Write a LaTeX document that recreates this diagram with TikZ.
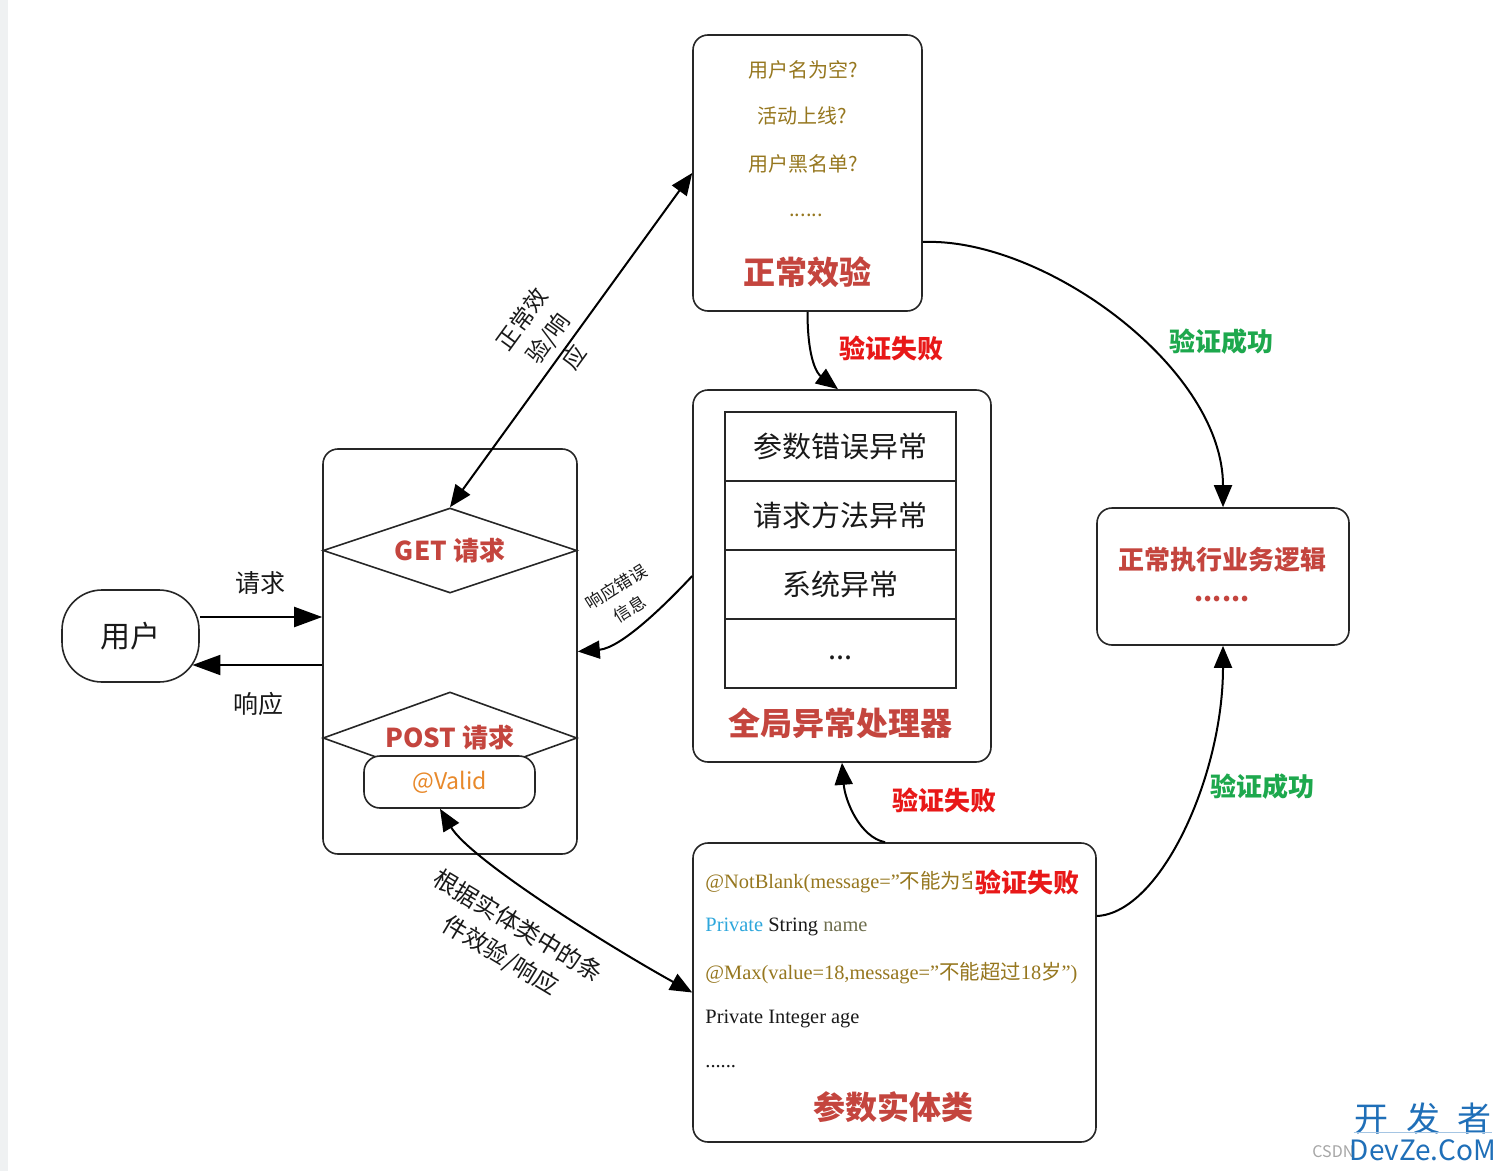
\documentclass[tikz,border=0pt]{standalone}
\usepackage{fontspec}
\setmainfont{Noto Sans CJK SC}
\newfontfamily\cjk{Noto Sans CJK SC}
\newfontfamily\codefont{Liberation Serif}
\usetikzlibrary{arrows.meta,shapes.geometric}
\definecolor{cOlive}{HTML}{96771F}
\definecolor{cTitle}{HTML}{C4453E}
\definecolor{cFail}{HTML}{E81818}
\definecolor{cOk}{HTML}{1DA84D}
\definecolor{cBlue}{HTML}{2EA7DC}
\definecolor{cName}{HTML}{6E6E4E}
\definecolor{cOrange}{HTML}{E8892B}
\definecolor{cLogo}{HTML}{1F6FB8}
\definecolor{cStrip}{HTML}{EFF1F2}
\tikzset{
  box/.style={draw=black!85, line width=0.8pt, rounded corners=7.5pt, fill=white, inner sep=0pt},
  cell/.style={draw=black!85, line width=0.9pt, minimum width=115.5pt, minimum height=34.5pt, inner sep=0pt, font=\fontsize{14.5}{16}\selectfont, text=black!90},
  dia/.style={draw=black!85, line width=0.8pt, shape=diamond, shape aspect=3, inner sep=0pt, font=\fontsize{13}{15}\selectfont\bfseries, text=cTitle},
  olivetxt/.style={inner sep=0pt, text=cOlive, font=\fontsize{10}{12}\selectfont},
  title/.style={inner sep=0pt, text=cTitle, font=\fontsize{16}{18}\selectfont\bfseries},
  failtxt/.style={inner sep=0pt, text=cFail, font=\fontsize{13}{15}\selectfont\bfseries},
  oktxt/.style={inner sep=0pt, text=cOk, font=\fontsize{13}{15}\selectfont\bfseries},
  lbl/.style={inner sep=0pt, text=black!90, font=\fontsize{12.5}{14}\selectfont},
  code/.style={inner sep=0pt, anchor=west, text=black!90, font=\codefont\fontsize{10.2}{12}\selectfont},
  conn/.style={line width=1pt, draw=black, -{Triangle[length=11pt,width=9pt]}},
  conn2/.style={line width=1pt, draw=black, -{Triangle[length=14pt,width=10pt]}},
  bi/.style={line width=1pt, draw=black, {Triangle[length=11pt,width=9pt]}-{Triangle[length=11pt,width=9pt]}}
}
\begin{document}
\begin{tikzpicture}[x=0.5pt,y=-0.5pt]
\fill[white] (0,0) rectangle (1507,1171);
\fill[cStrip] (0,0) rectangle (8,1171);
\useasboundingbox (0,0) rectangle (1507,1171);

% top validation box
\node[box, minimum width=114.5pt, minimum height=138pt] (top) at (807.5,173) {};
\node[olivetxt] (t1) at (803,70) {用户名为空?};
\node[olivetxt] (t2) at (802,116) {活动上线?};
\node[olivetxt] (t3) at (803,164) {用户黑名单?};
\node[olivetxt] (t4) at (806,215) {......};
\node[title] (t5) at (807,272) {正常效验};

% global exception handler
\node[box, minimum width=149pt, minimum height=186pt] (exc) at (842,576) {};
\node[cell] (e1) at (840.5,446.5) {参数错误异常};
\node[cell] (e2) at (840.5,515.5) {请求方法异常};
\node[cell] (e3) at (840.5,584.5) {系统异常};
\node[cell] (e4) at (840.5,653.5) {};
\node[inner sep=0pt, font=\fontsize{14.5}{16}\selectfont, text=black!90] (e4t) at (840.5,658) {...};
\node[title] (e5) at (840,723) {全局异常处理器};

% business logic box
\node[box, minimum width=126pt, minimum height=68.5pt] (biz) at (1223,576.5) {};
\node[inner sep=0pt, text=cTitle, font=\fontsize{13}{15}\selectfont\bfseries] (b1) at (1222,560) {正常执行业务逻辑};
\node[inner sep=0pt, text=cTitle, font=\fontsize{13}{15}\selectfont\bfseries] (b2) at (1222,599) {......};

% entity box
\node[box, minimum width=201.5pt, minimum height=149.5pt] (ent) at (894.5,992.5) {};
\node[code, text=cOlive] (c1) at (705,882) {@NotBlank(message=”{\cjk 不能为空}”)};
\node[code] (c2) at (705,927) {\textcolor{cBlue}{Private} String \textcolor{cName}{name}};
\node[code, text=cOlive] (c3) at (705,973) {@Max(value=18,message=”{\cjk 不能超过}18{\cjk 岁}”)};
\node[code] (c4) at (705,1019) {Private Integer age};
\node[code] (c5) at (705,1067) {......};
\node[title] (c6) at (893,1107) {参数实体类};
\node[failtxt, fill=white, inner sep=1.5pt] (f3) at (1027,882) {验证失败};

% request container
\node[box, minimum width=127pt, minimum height=202.5pt] (req) at (450,651.5) {};
\node[dia, minimum width=127pt, minimum height=42.5pt] (get) at (450,550.5) {GET 请求};
\node[dia, minimum width=127pt, minimum height=46pt] (post) at (450,738) {POST 请求};
\node[box, rounded corners=8pt, minimum width=85.5pt, minimum height=26pt, text=cOrange, font=\fontsize{11.5}{13}\selectfont] (valid) at (449.5,782) {@Valid};

% user
\node[box, rounded corners=20pt, minimum width=68.5pt, minimum height=46pt, font=\fontsize{15}{17}\selectfont, text=black!90] (user) at (130.5,636) {用户};
\node[lbl] (lq) at (260,583) {请求};
\node[lbl] (lx) at (258,704) {响应};
\draw[conn2] ([yshift=9.5pt]user.east) -- ([yshift=9.5pt]user.east -| req.west);
\draw[conn2] ([yshift=-14.5pt]user.east -| req.west) -- ([yshift=-14.5pt,xshift=-3.7pt]user.east);

% GET <-> normal validation
\draw[bi] (get.north) -- (top.west);
\node[inner sep=0pt, rotate=54, align=center, text=black!90, font=\fontsize{11.5}{16}\selectfont] (l1) at (548,338) {正常效\\验/响\\应};

% validation failed -> exception handler
\draw[conn] (top.south) .. controls +(0,50) and +(-20,-15) .. ([xshift=-2pt]exc.north);
\node[failtxt] (f1) at (891,348) {验证失败};

% validation ok -> business
\draw[conn] ([yshift=-34.5pt]top.east) .. controls +(120,-5) and +(0,-140) .. (biz.north);
\node[oktxt] (s1) at (1221,342) {验证成功};

% entity ok -> business
\draw[conn] ([yshift=38.25pt]ent.east) .. controls +(64,-3) and +(0,130) .. (biz.south);
\node[oktxt] (s2) at (1262,787) {验证成功};

% entity failed -> exception handler
\draw[conn] ([xshift=-4.75pt]ent.north) .. controls +(-25,-5) and +(3,38) .. (exc.south);
\node[failtxt] (f2) at (944,800) {验证失败};

% exception handler -> request container
\draw[conn] (exc.west) .. controls +(-28,30) and +(43,-3.5) .. (req.east);
\node[inner sep=0pt, rotate=32, align=center, text=black!90, font=\fontsize{8.5}{12.5}\selectfont] (l2) at (623,598) {响应错误\\信息};

% @Valid <-> entity
\draw[bi] ([xshift=-4.75pt]valid.south) .. controls +(30,50) and +(-90,-50) .. (ent.west);
\node[inner sep=0pt, rotate=-31, align=center, text=black!90, font=\fontsize{12}{17}\selectfont] (l3) at (509,941) {根据实体类中的条\\件效验/响应};

% logo
\node[inner sep=0pt, anchor=west, text=black!35, font=\fontsize{8}{9}\selectfont] (csdn) at (1312,1152) {CSDN};
\node[inner sep=0pt, text=cLogo, font=\fontsize{17}{18}\selectfont] (logo1) at (1423,1119) {开\hspace{9pt}发\hspace{9pt}者};
\draw[cLogo!40, line width=0.6pt] (logo1.south west) ++(0,-3) coordinate (lg1) -- (logo1.south east |- lg1) coordinate (lg2);
\node[inner sep=0pt, text=cLogo, font=\fontsize{14}{15}\selectfont] (logo2) at (1423,1150) {DevZe.CoM};
\end{tikzpicture}
\end{document}
